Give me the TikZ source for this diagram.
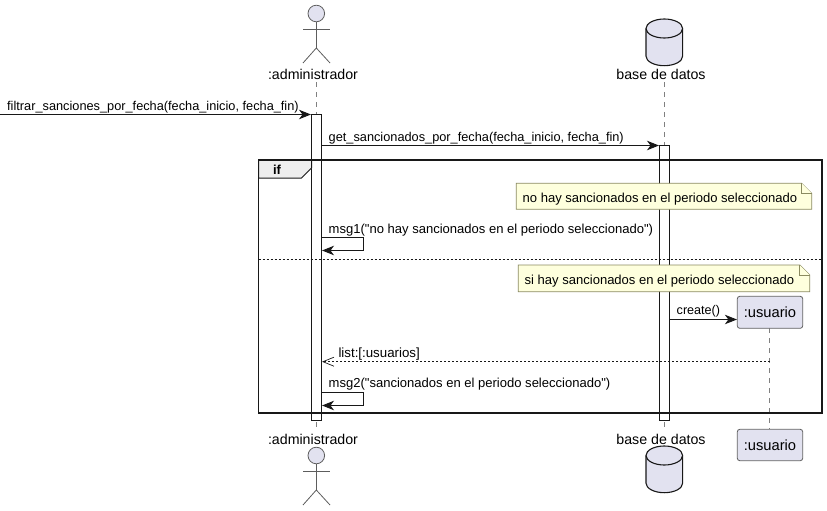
\documentclass[tikz,border=0pt]{standalone}
\usepackage{fontspec}
\setmainfont{Liberation Sans}[Ligatures=TeXOff]
\usetikzlibrary{arrows.meta}
\definecolor{partfill}{HTML}{E2E2F0}
\definecolor{notefill}{HTML}{FEFFDD}
\definecolor{tabfill}{HTML}{EEEEEE}
\definecolor{edge}{HTML}{181818}
\definecolor{lifecol}{HTML}{808080}
\definecolor{notecol}{HTML}{8A8A60}
\tikzset{
  lbl/.style={inner sep=0pt,font=\fontsize{13.03}{15}\selectfont,text=black},
  msglbl/.style={lbl,anchor=base west},
  widelbl/.style={msglbl,font=\fontsize{12.76}{15}\selectfont},
  partlbl/.style={inner sep=0pt,font=\fontsize{14.2}{16}\selectfont,text=black,anchor=base},
  msg/.style={draw=edge,line width=1pt,-{Stealth[length=12pt,width=9.5pt,inset=3.5pt]}},
  selfmsg/.style={msg,rounded corners=0pt},
  retmsg/.style={draw=edge,line width=.8pt,dash pattern=on 2pt off 2pt,-{Straight Barb[length=11pt,width=9pt,line width=.7pt]}},
  life/.style={draw=lifecol,line width=.8pt,dash pattern=on 5pt off 5pt},
  bar/.style={draw=edge,line width=1pt,fill=white},
  userbox/.style={draw=lifecol!70!edge,line width=.8pt,fill=partfill,rounded corners=2.5pt,font=\fontsize{14.7}{16}\selectfont,inner sep=0pt},
  actorline/.style={draw=edge!70!white,line width=.8pt},
  actorhead/.style={circle,draw=edge!70!white,line width=.8pt,fill=partfill,minimum size=16.6pt,inner sep=0pt},
  dbshape/.style={draw=edge,line width=1.1pt,fill=partfill},
  notebox/.style={draw=notecol,line width=.8pt,fill=notefill},
  framebox/.style={draw=edge,line width=1.8pt},
  divider/.style={draw=edge,line width=.8pt,dash pattern=on 2pt off 2pt},
}
\begin{document}
\begin{tikzpicture}[x=1pt,y=-1pt]
\useasboundingbox (0,0) rectangle (827,511);
% lifelines
\coordinate (admTop) at (316.3,82);
\coordinate (admBot) at (316.3,429);
\coordinate (dbTop) at (664.3,82);
\coordinate (dbBot) at (664.3,429);
\coordinate (usrTop) at (769.5,328);
\coordinate (usrBot) at (769.5,429);
\draw[life] (admTop) -- (admBot);
\draw[life] (dbTop) -- (dbBot);
\draw[life] (usrTop) -- (usrBot);
% activation bars
\path[bar] (311.3,114.5) rectangle (321.3,420.5);
\path[bar] (659.5,145.5) rectangle (669.5,420.5);
% frame tab
\path[fill=tabfill,draw=edge,line width=1pt] (258.5,160) -- (311.5,160) -- (311.5,168) -- (301.5,178) -- (258.5,178) -- cycle;
\node[lbl,font=\fontsize{13}{15}\selectfont\bfseries] (iflbl) at (277,170) {if};
\draw[framebox] (258.5,160) rectangle (821.7,412.7);
\draw[divider] (258.5,259) -- (821.7,259);
% notes
\path[notebox] (516.3,183.3) -- (801.7,183.3) -- (811.7,193.3) -- (811.7,209.3) -- (516.3,209.3) -- cycle;
\draw[notebox] (801.7,183.3) -- (801.7,193.3) -- (811.7,193.3);
\node[msglbl] (note1) at (522.5,202) {no hay sancionados en el periodo seleccionado};
\path[notebox] (518.3,265) -- (799.7,265) -- (809.7,275) -- (809.7,291.7) -- (518.3,291.7) -- cycle;
\draw[notebox] (799.7,265) -- (799.7,275) -- (809.7,275);
\node[msglbl] (note2) at (524.5,284) {si hay sancionados en el periodo seleccionado};
% usuario boxes
\node[userbox,minimum width=65.4pt,minimum height=32pt] (usrA) at (770,312.3) {:usuario};
\node[userbox,minimum width=65.4pt,minimum height=31.4pt] (usrB) at (770,445) {:usuario};
% messages
\coordinate (inStart) at (0,114.5);
\coordinate (m1end) at (311,114.5);
\coordinate (m2a) at (321.3,145.5);
\coordinate (m2b) at (659,145.5);
\coordinate (s1a) at (321.3,237.5);
\coordinate (s1b) at (363.5,237.5);
\coordinate (s1c) at (363.5,250.5);
\coordinate (s1d) at (322,250.5);
\coordinate (s2a) at (321.3,392.5);
\coordinate (s2b) at (363.5,392.5);
\coordinate (s2c) at (363.5,405.5);
\coordinate (s2d) at (322,405.5);
\coordinate (cra) at (669.5,319.5);
\coordinate (retb) at (322,361.7);
\coordinate (reta) at (769.5,361.7);
\draw[msg] (inStart) -- (m1end);
\draw[msg] (m2a) -- (m2b);
\draw[selfmsg] (s1a) -- (s1b) -- (s1c) -- (s1d);
\draw[msg] (cra) -- (usrA.west |- cra);
\draw[retmsg] (reta) -- (retb);
\draw[selfmsg] (s2a) -- (s2b) -- (s2c) -- (s2d);
\node[widelbl] (l1) at (7,110) {filtrar\_sanciones\_por\_fecha(fecha\_inicio, fecha\_fin)};
\node[widelbl] (l2) at (328.5,141) {get\_sancionados\_por\_fecha(fecha\_inicio, fecha\_fin)};
\node[msglbl] (l3) at (328.5,233) {msg1("no hay sancionados en el periodo seleccionado")};
\node[msglbl,font=\fontsize{12.6}{15}\selectfont] (l4) at (676.5,314.5) {create()};
\node[msglbl,font=\fontsize{13.3}{15}\selectfont] (l5) at (338.3,357) {list:[:usuarios]};
\node[msglbl] (l6) at (328.5,387.5) {msg2("sancionados en el periodo seleccionado")};
% participant labels
\node[partlbl] (admT) at (313,80) {:administrador};
\node[partlbl] (dbT) at (661,80) {base de datos};
\node[partlbl] (admB) at (313,444) {:administrador};
\node[partlbl] (dbB) at (661,444) {base de datos};
% actor top
\node[actorhead] (headT) at (316.3,13.5) {};
\coordinate (hipT) at (316.3,48);
\draw[actorline] (headT.south) -- (hipT);
\draw[actorline] (303,29) -- (330,29);
\draw[actorline] (303,63) -- (hipT) -- (330,63);
% actor bottom
\node[actorhead] (headB) at (316.3,455.5) {};
\coordinate (hipB) at (316.3,490);
\draw[actorline] (headB.south) -- (hipB);
\draw[actorline] (303,471) -- (330,471);
\draw[actorline] (303,505) -- (hipB) -- (330,505);
% database top
\path[dbshape] (646,28.5) arc[start angle=180,end angle=360,x radius=18.3,y radius=9.5] -- (682.6,56.2) arc[start angle=0,end angle=180,x radius=18.3,y radius=9.5] -- cycle;
\draw[dbshape,fill=none] (646,28.5) arc[start angle=180,end angle=0,x radius=18.3,y radius=9.5];
% database bottom
\path[dbshape] (646,455.5) arc[start angle=180,end angle=360,x radius=18.3,y radius=9.5] -- (682.6,483.2) arc[start angle=0,end angle=180,x radius=18.3,y radius=9.5] -- cycle;
\draw[dbshape,fill=none] (646,455.5) arc[start angle=180,end angle=0,x radius=18.3,y radius=9.5];
\end{tikzpicture}
\end{document}
